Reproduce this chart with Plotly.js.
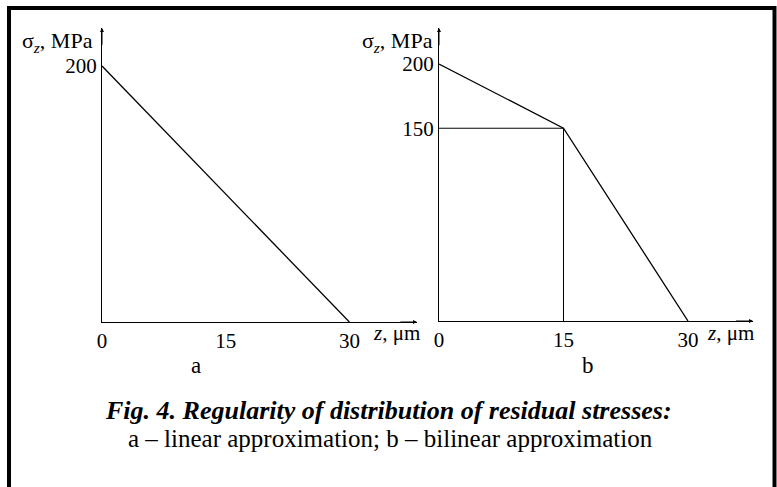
<!DOCTYPE html>
<html>
<head>
<meta charset="utf-8">
<script src="https://cdn.plot.ly/plotly-3.0.1.min.js"></script>
<style>html,body{margin:0;padding:0;background:#fff;}#chart{width:777px;height:487px;}</style>
</head>
<body>
<div id="chart"></div>
<script>
// Panel a: linear approximation
const aDepth = [0, 30];
const aStress = [200, 0];
// Panel b: bilinear approximation
const bDepth = [0, 15, 30];
const bStress = [200, 150, 0];
// Panel b: guide lines to the break point
const bGuideDepth = [0, 15, 15];
const bGuideStress = [150, 150, 0];
// Tick labels
const aXTicks = [0, 15, 30];
const aYTicks = [200];
const bXTicks = [0, 15, 30];
const bYTicks = [150, 200];

const W = 777, H = 487;
const px = v => v / W;
const py = v => 1 - v / H;
const serif = 'Liberation Serif, Times New Roman, serif';
const lineStyle = {color: '#000', width: 1.3};

const traces = [
  {x: aDepth, y: aStress, xaxis: 'x', yaxis: 'y', mode: 'lines', line: lineStyle, hoverinfo: 'skip'},
  {x: bGuideDepth, y: bGuideStress, xaxis: 'x2', yaxis: 'y2', mode: 'lines', line: {color: '#000', width: 1}, hoverinfo: 'skip'},
  {x: bDepth, y: bStress, xaxis: 'x2', yaxis: 'y2', mode: 'lines', line: lineStyle, hoverinfo: 'skip'}
];

const axisBase = {
  showline: true, linecolor: '#000', linewidth: 1, showgrid: false, zeroline: false,
  ticks: '', tickmode: 'array', tickfont: {family: serif, size: 21, color: '#000'}, fixedrange: true
};

const arrow = (xr, yr, x, y, ax, ay) => ({xref: xr, yref: yr, axref: xr, ayref: yr, x: x, y: y, ax: ax, ay: ay,
  showarrow: true, arrowhead: 2, arrowsize: 0.8, arrowwidth: 1, arrowcolor: '#000', text: ' ', font: {size: 1}});

const layout = {
  width: W, height: H,
  margin: {l: 0, r: 0, t: 0, b: 0},
  paper_bgcolor: '#fff', plot_bgcolor: 'rgba(0,0,0,0)',
  showlegend: false,
  xaxis: Object.assign({}, axisBase, {domain: [px(102), px(417)], range: [0, 38.2], tickvals: aXTicks, ticktext: aXTicks.map(String), anchor: 'y'}),
  yaxis: Object.assign({}, axisBase, {domain: [py(322), py(28)], range: [0, 229.7], tickvals: aYTicks, ticktext: aYTicks.map(String), anchor: 'x'}),
  xaxis2: Object.assign({}, axisBase, {domain: [px(439), px(753)], range: [0, 37.83], tickvals: bXTicks, ticktext: bXTicks.map(String), anchor: 'y2'}),
  yaxis2: Object.assign({}, axisBase, {domain: [py(321), py(28)], range: [0, 228], tickvals: bYTicks, ticktext: bYTicks.map(String), anchor: 'x2'}),
  shapes: [
    {type: 'rect', xref: 'paper', yref: 'paper', x0: px(9), x1: px(774.5), y0: -0.1, y1: py(8), line: {color: '#000', width: 4}, fillcolor: 'rgba(0,0,0,0)'}
  ],
  annotations: [
    // axis arrowheads
    arrow('x', 'y', 0, 229.7, 0, 215),
    arrow('x', 'y', 38.2, 0, 36, 0),
    arrow('x2', 'y2', 0, 228, 0, 213),
    arrow('x2', 'y2', 37.83, 0, 35.6, 0),
    // axis titles
    {xref: 'paper', yref: 'paper', x: px(95), y: py(42), xanchor: 'right', yanchor: 'middle', showarrow: false, text: 'σ<sub><i>z</i></sub>, MPa', font: {family: serif, size: 22, color: '#000'}},
    {xref: 'paper', yref: 'paper', x: px(435), y: py(42), xanchor: 'right', yanchor: 'middle', showarrow: false, text: 'σ<sub><i>z</i></sub>, MPa', font: {family: serif, size: 22, color: '#000'}},
    {xref: 'paper', yref: 'paper', x: px(396), y: py(333), xanchor: 'center', yanchor: 'middle', showarrow: false, text: '<i>z</i>, μm', font: {family: serif, size: 21, color: '#000'}},
    {xref: 'paper', yref: 'paper', x: px(730), y: py(333), xanchor: 'center', yanchor: 'middle', showarrow: false, text: '<i>z</i>, μm', font: {family: serif, size: 21, color: '#000'}},
    // panel labels
    {xref: 'paper', yref: 'paper', x: px(196), y: py(365), xanchor: 'center', yanchor: 'middle', showarrow: false, text: 'a', font: {family: serif, size: 23, color: '#000'}},
    {xref: 'paper', yref: 'paper', x: px(588), y: py(365), xanchor: 'center', yanchor: 'middle', showarrow: false, text: 'b', font: {family: serif, size: 23, color: '#000'}},
    // caption
    {xref: 'paper', yref: 'paper', x: px(389), y: py(410), xanchor: 'center', yanchor: 'middle', showarrow: false, text: '<b><i>Fig. 4. Regularity of distribution of residual stresses:</i></b>', font: {family: serif, size: 26, color: '#000'}},
    {xref: 'paper', yref: 'paper', x: px(390), y: py(438), xanchor: 'center', yanchor: 'middle', showarrow: false, text: 'a – linear approximation; b – bilinear approximation', font: {family: serif, size: 25, color: '#000'}}
  ]
};

Plotly.newPlot('chart', traces, layout, {displayModeBar: false, staticPlot: true});
</script>
</body>
</html>
